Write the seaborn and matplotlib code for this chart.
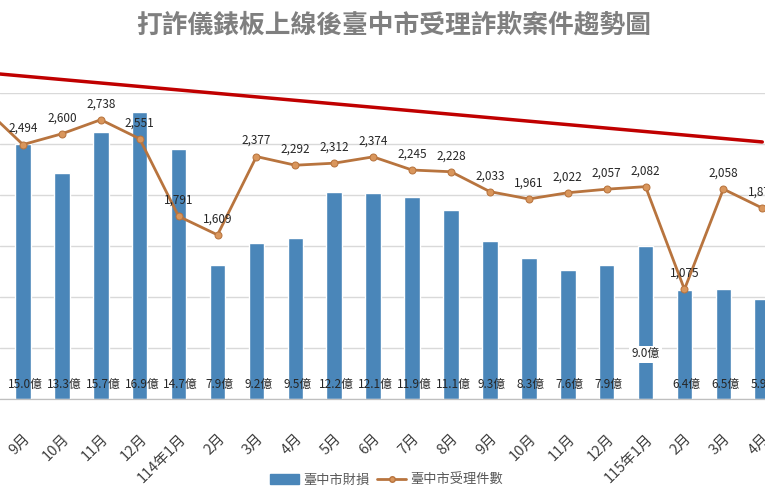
import numpy as np
import pandas as pd
import matplotlib
matplotlib.use("Agg")
import matplotlib.pyplot as plt
import seaborn as sns
from matplotlib.patches import Patch
from matplotlib.lines import Line2D

# 月份 (第一個 113年8月 在畫面外，只露出一點)
months = ["8月", "9月", "10月", "11月", "12月", "114年1月", "2月", "3月", "4月",
          "5月", "6月", "7月", "8月", "9月", "10月", "11月", "12月",
          "115年1月", "2月", "3月", "4月"]
loss = [17.6, 15.0, 13.3, 15.7, 16.9, 14.7, 7.9, 9.2, 9.5, 12.2, 12.1, 11.9,
        11.1, 9.3, 8.3, 7.6, 7.9, 9.0, 6.4, 6.5, 5.9]          # 臺中市財損 (億)
cases = [2856, 2494, 2600, 2738, 2551, 1791, 1609, 2377, 2292, 2312, 2374,
         2245, 2228, 2033, 1961, 2022, 2057, 2082, 1075, 2058, 1872]  # 受理件數
trend_x = [0, 20]
trend_y = [3200, 2520]   # 紅色趨勢線 (件數刻度)

df = pd.DataFrame({"idx": np.arange(len(months)), "loss": loss, "cases": cases})

sns.set_style("white")
plt.rcParams["font.family"] = ["Noto Sans CJK TC", "DejaVu Sans"]

fig = plt.figure(figsize=(7.65, 5), dpi=100)
ax = fig.add_axes([0, 0.202, 1, 0.612])
ax2 = ax.twinx()

bar_c = "#4A86B9"
line_c = "#B8743E"

sns.barplot(data=df, x="idx", y="loss", color=bar_c, width=0.4, saturation=1,
            ax=ax, zorder=2)
sns.lineplot(data=df, x="idx", y="cases", color=line_c, lw=2, marker="o",
             markersize=5, markerfacecolor="#D9965C", markeredgecolor=line_c,
             ax=ax2, zorder=3)
ax2.plot(trend_x, trend_y, color="#C00000", lw=2.5, clip_on=False, zorder=4,
         scalex=False, scaley=False)

ax.set_xticks(df["idx"])
ax.set_xticklabels(months, rotation=45, ha="right", rotation_mode="anchor",
                   fontsize=10.5, color="#404040")
ax.tick_params(axis="x", bottom=False, pad=20)

ax.set_ylim(0, 18)
ax2.set_ylim(0, 3000)
ax.set_xlim(0.41, 20.07)
ax.set_yticks(np.arange(0, 19, 3))
ax.yaxis.grid(True, color="#D9D9D9", lw=1)
ax.set_axisbelow(True)
ax.tick_params(axis="y", left=False, labelleft=False)
ax2.tick_params(axis="y", right=False, labelright=False)
ax.set_xlabel("")
ax.set_ylabel("")
ax2.set_ylabel("")
for a in (ax, ax2):
    for s in ("left", "right", "top"):
        a.spines[s].set_visible(False)
    a.spines["bottom"].set_color("#BFBFBF")

# 財損標籤
for i, v in enumerate(loss):
    if months[i] == "115年1月":
        ax.annotate(f"{v:.1f}億", (i, 0), xytext=(0, 32), textcoords="offset points",
                    ha="center", va="center", fontsize=8.5, color="#262626",
                    bbox=dict(fc="white", ec="none", pad=1.5), zorder=5)
    else:
        ax.annotate(f"{v:.1f}億", (i, 0), xytext=(1.5, 9.5), textcoords="offset points",
                    ha="center", va="center", fontsize=8.5, color="#262626", zorder=5)

# 件數標籤
for i, v in enumerate(cases):
    ax2.annotate(f"{v:,}", (i, v), xytext=(0, 11.5), textcoords="offset points",
                 ha="center", va="center", fontsize=8.5, color="#262626")

fig.text(0.514, 0.95, "打詐儀錶板上線後臺中市受理詐欺案件趨勢圖", ha="center",
         va="center", fontsize=18.5, fontweight="bold", color="#7F7F7F")

handles = [Patch(color=bar_c, label="臺中市財損"),
           Line2D([], [], color=line_c, lw=2, marker="o", markersize=4,
                  markerfacecolor="#D9965C", label="臺中市受理件數")]
fig.legend(handles=handles, loc="center", bbox_to_anchor=(0.505, 0.04), ncol=2,
           frameon=False, fontsize=9.5, labelcolor="#595959", handlelength=2.2,
           handleheight=0.7, columnspacing=0.6, handletextpad=0.3)

fig.savefig("out.png", dpi=100)
